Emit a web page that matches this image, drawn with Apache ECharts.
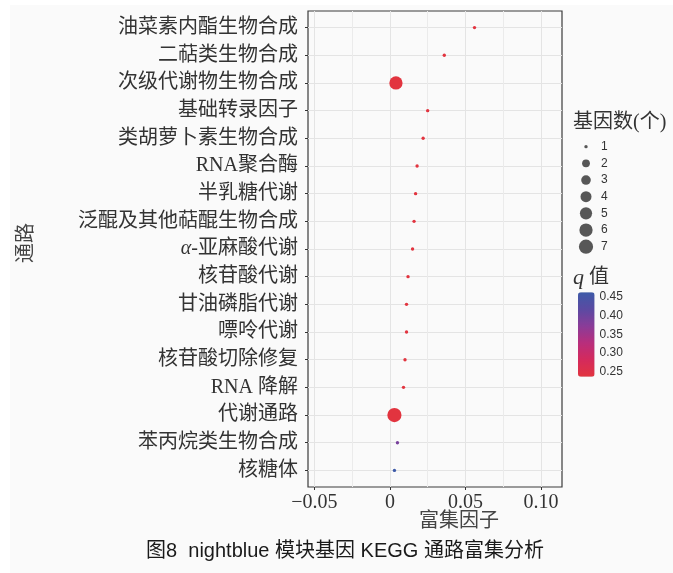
<!DOCTYPE html>
<html>
<head>
<meta charset="utf-8">
<script src="https://cdn.jsdelivr.net/npm/echarts@6/dist/echarts.min.js"></script>
<style>
  html, body { margin: 0; padding: 0; background: #fff; }
  #chart {
    width: 673px; height: 573px;
    background: linear-gradient(#fafafa, #fafafa) 10px 5px / 100% 100% no-repeat, #fff;
  }
</style>
</head>
<body>
<div id="chart"></div>
<script>
// KEGG pathways, top to bottom
const pathways = [
  '油菜素内酯生物合成', '二萜类生物合成', '次级代谢物生物合成', '基础转录因子',
  '类胡萝卜素生物合成', 'RNA聚合酶', '半乳糖代谢', '泛醌及其他萜醌生物合成',
  'α-亚麻酸代谢', '核苷酸代谢', '甘油磷脂代谢', '嘌呤代谢', '核苷酸切除修复',
  'RNA 降解', '代谢通路', '苯丙烷类生物合成', '核糖体'
];
// rich factor per pathway
const richFactor = [0.056, 0.036, 0.004, 0.025, 0.022, 0.018, 0.017, 0.016,
                    0.015, 0.012, 0.011, 0.011, 0.010, 0.009, 0.003, 0.005, 0.003];
// number of genes per pathway
const geneCount = [1, 1, 6, 1, 1, 1, 1, 1, 1, 1, 1, 1, 1, 1, 7, 1, 1];
// q value per pathway
const qValue = [0.237, 0.237, 0.237, 0.237, 0.237, 0.237, 0.237, 0.237,
                0.237, 0.237, 0.237, 0.237, 0.237, 0.237, 0.237, 0.39, 0.463];

const xMajorTicks = [-0.05, 0, 0.05, 0.10];
const xMinorTicks = [-0.025, 0.025, 0.075];
const sizeLegendValues = [1, 2, 3, 4, 5, 6, 7];
const qTicks = [0.25, 0.30, 0.35, 0.40, 0.45];
const qRange = [0.237, 0.463];

// area-style size scale for the gene count
function pointSize(n) {
  const s = 1 + 5 * Math.sqrt((n - 1) / 6);
  return 0.76 * (2.845 * s + 1.6);
}

const serif = "'Liberation Serif', 'Noto Sans CJK SC', serif";
const sans = "'Liberation Sans', 'Noto Sans CJK SC', sans-serif";

const chart = echarts.init(document.getElementById('chart'), null, { renderer: 'canvas' });

const points = pathways.map((p, i) => [richFactor[i], i, geneCount[i], qValue[i]]);

function fmtX(v) {
  if (Math.abs(v) < 1e-9) return '0';
  return v.toFixed(2).replace('-', '\u2212');
}

chart.setOption({
  backgroundColor: 'transparent',
  animation: false,
  grid: [
    { left: 308, top: 11, right: 111, bottom: 86, show: true, borderColor: '#3a3a3a',
      borderWidth: 1.2, backgroundColor: 'transparent' },
    { left: 576, top: 138.35, width: 20, height: 116.7, show: false },
    { left: 578, top: 292.3, width: 16.6, height: 84.4, show: false }
  ],
  xAxis: [
    { type: 'value', gridIndex: 0, min: -0.0542, max: 0.1139,
      axisLine: { show: false, onZero: false },
      axisTick: { show: true, length: 3, lineStyle: { color: '#333' }, customValues: xMajorTicks },
      axisLabel: { customValues: xMajorTicks, formatter: fmtX, fontFamily: serif, fontSize: 20,
                   color: '#333', margin: 6 },
      splitLine: { show: true, lineStyle: { color: '#e4e4e4', width: 1 } } },
    { type: 'value', gridIndex: 0, min: -0.0542, max: 0.1139, position: 'bottom',
      axisLine: { show: false, onZero: false },
      axisTick: { show: false, customValues: xMinorTicks },
      axisLabel: { show: false, customValues: xMinorTicks },
      splitLine: { show: true, lineStyle: { color: '#ebebeb', width: 1 } } },
    { type: 'value', gridIndex: 1, min: -1, max: 1, show: false },
    { type: 'value', gridIndex: 2, min: 0, max: 1, show: false }
  ],
  yAxis: [
    { type: 'value', gridIndex: 0, min: -0.6, max: pathways.length - 0.4, inverse: true,
      axisLine: { show: false, onZero: false },
      axisTick: { show: true, length: 3, lineStyle: { color: '#333' },
                  customValues: pathways.map((p, i) => i) },
      axisLabel: {
        customValues: pathways.map((p, i) => i),
        formatter: v => {
          const name = pathways[Math.round(v)] || '';
          return name.startsWith('α') ? '{i|α}' + name.slice(1) : name;
        },
        fontFamily: serif, fontSize: 20, color: '#333', margin: 10,
        rich: { i: { fontFamily: serif, fontStyle: 'italic', fontSize: 20, color: '#333' } }
      },
      splitLine: { show: true, lineStyle: { color: '#e4e4e4', width: 1 } } },
    { type: 'category', gridIndex: 1, data: sizeLegendValues.map(String), inverse: true,
      position: 'right', axisLine: { show: false }, axisTick: { show: false },
      splitLine: { show: false },
      axisLabel: { fontFamily: sans, fontSize: 12, color: '#333', margin: 5 } },
    { type: 'value', gridIndex: 2, min: qRange[0], max: qRange[1], position: 'right',
      axisLine: { show: false, onZero: false }, splitLine: { show: false },
      axisTick: { show: true, inside: true, length: 3, customValues: qTicks,
                  lineStyle: { color: '#ffffff', width: 1 } },
      axisLabel: { customValues: qTicks, formatter: v => v.toFixed(2), fontFamily: sans,
                   fontSize: 12, color: '#333', margin: 5 } },
    { type: 'value', gridIndex: 2, min: qRange[0], max: qRange[1], position: 'left',
      axisLine: { show: false, onZero: false }, splitLine: { show: false },
      axisTick: { show: true, inside: true, length: 3, customValues: qTicks,
                  lineStyle: { color: '#ffffff', width: 1 } },
      axisLabel: { show: false, customValues: qTicks } }
  ],
  visualMap: {
    type: 'continuous', seriesIndex: 0, dimension: 3,
    min: qRange[0], max: qRange[1], calculable: false, text: null, showLabel: false,
    left: 578, top: 292.3, itemWidth: 16.6, itemHeight: 84.4, padding: 0,
    inRange: { color: ['#e2343f', '#d42a5c', '#b82e7c', '#8a3c98', '#5b4aa2', '#3d5aa8'] }
  },
  series: [
    { type: 'scatter', xAxisIndex: 0, yAxisIndex: 0, data: points,
      symbolSize: v => pointSize(v[2]), itemStyle: { opacity: 1 }, z: 5 },
    { type: 'scatter', xAxisIndex: 2, yAxisIndex: 1,
      data: sizeLegendValues.map(n => [0, String(n)]),
      symbolSize: v => pointSize(Number(v[1])), itemStyle: { color: '#2e2e2e' } },
    { type: 'scatter', xAxisIndex: 3, yAxisIndex: 2, data: [] }
  ],
  graphic: [
    { type: 'text', x: 27, y: 243, rotation: Math.PI / 2,
      style: { text: '通路', font: '20px ' + serif, fill: '#444',
               textAlign: 'center', textVerticalAlign: 'middle' } },
    { type: 'text', x: 459, y: 522,
      style: { text: '富集因子', font: '20px ' + serif, fill: '#444',
               textAlign: 'center', textVerticalAlign: 'middle' } },
    { type: 'text', x: 573, y: 123,
      style: { text: '基因数(个)', font: '20px ' + serif, fill: '#333',
               textAlign: 'left', textVerticalAlign: 'middle' } },
    { type: 'text', x: 573, y: 278,
      style: { text: '{q|q} 值', font: '20px ' + serif, fill: '#333',
               textAlign: 'left', textVerticalAlign: 'middle',
               rich: { q: { fontFamily: serif, fontStyle: 'italic', fontSize: 22, fill: '#333' } } } },
    { type: 'text', x: 345, y: 551,
      style: { text: '图8  nightblue 模块基因 KEGG 通路富集分析', font: '20px ' + sans,
               fill: '#1a1a1a', textAlign: 'center', textVerticalAlign: 'middle' } }
  ]
});
</script>
</body>
</html>
